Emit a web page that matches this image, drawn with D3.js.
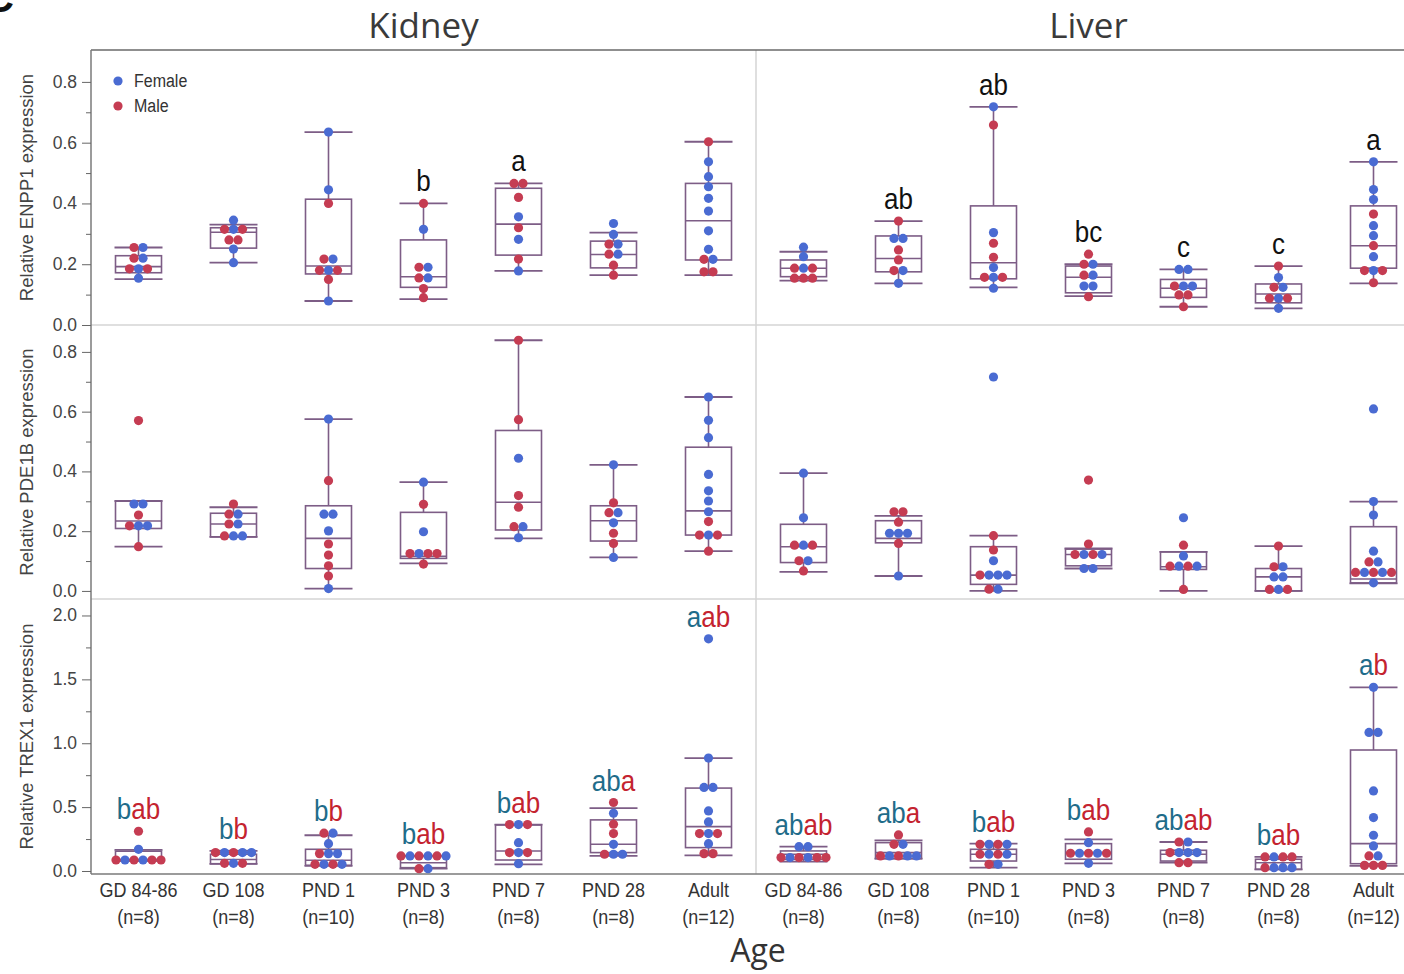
<!DOCTYPE html>
<html>
<head>
<meta charset="utf-8">
<script src="https://cdn.jsdelivr.net/npm/d3@7"></script>
<style>
  body { margin: 0; background: #fff; }
  text { font-family: "Liberation Sans", Arial, sans-serif; }
</style>
</head>
<body>
<div id="viz_div"></div>
<script>
// DATA
// ---------------------------------------------------------------------------------------------------------------------------------
const ages = ["GD 84-86", "GD 108", "PND 1", "PND 3", "PND 7", "PND 28", "Adult"];
const ageN = ["(n=8)", "(n=8)", "(n=10)", "(n=8)", "(n=8)", "(n=8)", "(n=12)"];
const tissues = ["Kidney", "Liver"];
const genes = ["ENPP1", "PDE1B", "TREX1"];
const sexes = ["Female", "Male"];

const enpp1Ticks = [0, 0.2, 0.4, 0.6, 0.8];
const pde1bTicks = [0, 0.2, 0.4, 0.6, 0.8];
const trex1Ticks = [0, 0.5, 1.0, 1.5, 2.0];

// ENPP1 - kidney
const kidneyEnpp1Female = [[0.255, 0.22, 0.185, 0.154], [0.345, 0.315, 0.25, 0.205], [0.635, 0.445, 0.217, 0.18, 0.079],
    [0.315, 0.19, 0.155], [0.356, 0.282, 0.178], [0.334, 0.298, 0.266, 0.233], [0.537, 0.488, 0.455, 0.417, 0.375, 0.31, 0.249, 0.216]];
const kidneyEnpp1Male = [[0.255, 0.22, 0.185, 0.185], [0.315, 0.315, 0.28, 0.28], [0.40, 0.217, 0.18, 0.18, 0.15],
    [0.40, 0.19, 0.155, 0.12, 0.09], [0.466, 0.466, 0.42, 0.32, 0.217], [0.266, 0.233, 0.197, 0.164], [0.603, 0.216, 0.175, 0.175]];
// [low whisker, q1, median, q3, high whisker]
const kidneyEnpp1Box = [[0.151, 0.172, 0.192, 0.228, 0.255], [0.205, 0.253, 0.305, 0.32, 0.33], [0.079, 0.168, 0.194, 0.414, 0.635],
    [0.085, 0.124, 0.159, 0.28, 0.40], [0.178, 0.23, 0.332, 0.45, 0.466], [0.164, 0.188, 0.232, 0.276, 0.304], [0.164, 0.214, 0.343, 0.466, 0.603]];
const kidneyEnpp1Letters = ["", "", "", "b", "a", "", ""];

// ENPP1 - liver
const liverEnpp1Female = [[0.256, 0.225, 0.187], [0.285, 0.285, 0.179, 0.137], [0.718, 0.304, 0.189, 0.157, 0.121],
    [0.2, 0.164, 0.128, 0.128], [0.183, 0.183, 0.128, 0.128], [0.156, 0.124, 0.088, 0.055], [0.537, 0.446, 0.413, 0.327, 0.294, 0.225, 0.179]];
const liverEnpp1Male = [[0.187, 0.187, 0.154, 0.154, 0.154], [0.342, 0.247, 0.214, 0.179], [0.658, 0.269, 0.223, 0.157, 0.157],
    [0.233, 0.2, 0.164, 0.093], [0.128, 0.099, 0.099, 0.06], [0.194, 0.124, 0.088, 0.088], [0.365, 0.261, 0.179, 0.179, 0.139]];
const liverEnpp1Box = [[0.146, 0.159, 0.187, 0.214, 0.241], [0.137, 0.175, 0.219, 0.293, 0.342], [0.124, 0.152, 0.205, 0.392, 0.718],
    [0.095, 0.106, 0.157, 0.194, 0.2], [0.06, 0.091, 0.121, 0.15, 0.183], [0.055, 0.073, 0.102, 0.135, 0.194], [0.137, 0.187, 0.261, 0.392, 0.537]];
const liverEnpp1Letters = ["", "ab", "ab", "bc", "c", "c", "a"];

// PDE1B - kidney
const kidneyPde1bFemale = [[0.291, 0.291, 0.218, 0.218], [0.257, 0.224, 0.184, 0.184], [0.575, 0.257, 0.257, 0.201, 0.008],
    [0.364, 0.198, 0.125], [0.444, 0.215, 0.178], [0.422, 0.262, 0.228, 0.112], [0.649, 0.571, 0.513, 0.39, 0.335, 0.301, 0.265, 0.187]];
const kidneyPde1bMale = [[0.57, 0.254, 0.218, 0.148], [0.291, 0.257, 0.224, 0.184], [0.369, 0.157, 0.12, 0.084, 0.05],
    [0.29, 0.125, 0.125, 0.125, 0.09], [0.839, 0.573, 0.319, 0.28, 0.215], [0.295, 0.262, 0.193, 0.159], [0.232, 0.187, 0.187, 0.133]];
const kidneyPde1bBox = [[0.148, 0.209, 0.234, 0.301, 0.301], [0.181, 0.181, 0.224, 0.26, 0.28], [0.008, 0.075, 0.176, 0.285, 0.575],
    [0.092, 0.109, 0.116, 0.263, 0.364], [0.176, 0.204, 0.297, 0.537, 0.839], [0.112, 0.167, 0.235, 0.285, 0.422], [0.133, 0.187, 0.268, 0.481, 0.649]];

// PDE1B - liver
const liverPde1bFemale = [[0.394, 0.245, 0.153, 0.101], [0.193, 0.193, 0.193, 0.05], [0.716, 0.101, 0.053, 0.053, 0.053, 0.006],
    [0.122, 0.122, 0.075, 0.075], [0.245, 0.117, 0.083, 0.083], [0.081, 0.047, 0.047, 0.005], [0.609, 0.299, 0.254, 0.133, 0.097, 0.062, 0.062, 0.027]];
const liverPde1bMale = [[0.153, 0.153, 0.101, 0.067], [0.265, 0.265, 0.23, 0.159], [0.185, 0.137, 0.053, 0.006],
    [0.371, 0.157, 0.122, 0.122], [0.153, 0.083, 0.083, 0.005], [0.15, 0.081, 0.005, 0.005], [0.097, 0.062, 0.062, 0.062]];
const liverPde1bBox = [[0.064, 0.095, 0.148, 0.223, 0.394], [0.05, 0.161, 0.176, 0.235, 0.251], [0.0, 0.022, 0.053, 0.148, 0.185],
    [0.075, 0.084, 0.122, 0.14, 0.142], [0.0, 0.072, 0.081, 0.131, 0.131], [0.0, 0.0, 0.047, 0.075, 0.15], [0.025, 0.027, 0.04, 0.215, 0.299]];

// TREX1 - kidney
const kidneyTrex1Female = [[0.17, 0.086, 0.086], [0.144, 0.144, 0.144, 0.06], [0.296, 0.214, 0.136, 0.136, 0.052, 0.052],
    [0.118, 0.118, 0.118, 0.018], [0.363, 0.222, 0.144, 0.057], [0.452, 0.209, 0.131, 0.131], [1.817, 0.884, 0.654, 0.654, 0.47, 0.384, 0.293, 0.214]];
const kidneyTrex1Male = [[0.311, 0.086, 0.086, 0.086, 0.086], [0.144, 0.144, 0.06, 0.06], [0.296, 0.136, 0.052, 0.052],
    [0.118, 0.118, 0.118, 0.018], [0.363, 0.363, 0.144, 0.144], [0.536, 0.366, 0.293, 0.131], [0.293, 0.293, 0.136, 0.136]];
const kidneyTrex1Box = [[0.08, 0.08, 0.09, 0.155, 0.165], [0.055, 0.057, 0.09, 0.131, 0.157], [0.04, 0.045, 0.084, 0.17, 0.28],
    [0.018, 0.026, 0.065, 0.118, 0.118], [0.052, 0.086, 0.157, 0.36, 0.363], [0.118, 0.144, 0.209, 0.40, 0.492], [0.123, 0.183, 0.347, 0.649, 0.884]];
const kidneyTrex1LettersFemale = ["b", "b", "b", "b", "b", "ab", "a"];
const kidneyTrex1LettersMale = ["ab", "b", "b", "ab", "ab", "a", "ab"];

// TREX1 - liver
const liverTrex1Female = [[0.19, 0.19, 0.105, 0.105], [0.209, 0.118, 0.118, 0.118], [0.209, 0.209, 0.131, 0.131, 0.052],
    [0.222, 0.139, 0.139, 0.06], [0.227, 0.144, 0.144, 0.144], [0.11, 0.026, 0.026, 0.026], [1.438, 1.085, 1.085, 0.627, 0.418, 0.28, 0.196, 0.118]];
const liverTrex1Male = [[0.105, 0.105, 0.105, 0.105], [0.282, 0.209, 0.118, 0.118], [0.209, 0.209, 0.131, 0.131, 0.052],
    [0.306, 0.139, 0.139, 0.139], [0.227, 0.144, 0.065, 0.065], [0.11, 0.11, 0.11, 0.026], [0.118, 0.044, 0.044, 0.044]];
const liverTrex1Box = [[0.073, 0.092, 0.131, 0.157, 0.19], [0.097, 0.097, 0.144, 0.222, 0.24], [0.026, 0.078, 0.131, 0.17, 0.214],
    [0.06, 0.092, 0.144, 0.214, 0.248], [0.065, 0.078, 0.131, 0.162, 0.227], [0.013, 0.013, 0.065, 0.092, 0.11], [0.04, 0.057, 0.214, 0.947, 1.438]];
const liverTrex1LettersFemale = ["ab", "ab", "b", "b", "ab", "b", "a"];
const liverTrex1LettersMale = ["ab", "a", "ab", "ab", "ab", "ab", "b"];

// SETUP
// ---------------------------------------------------------------------------------------------------------------------------------
const width = 1404, height = 974;
const plot = { left: 91, right: 1421, top: 50, bottom: 874 };
const rowEdges = [50, 325, 599, 874];

const color = d3.scaleOrdinal().domain(sexes).range(["#4a6bd2", "#c53c52"]);
const boxColor = "#7d5d86";
const letterColor = { Female: "#1f6c8a", Male: "#c4232f" };
const dotR = 4.6;
const stretch = 1.1;   // the figure's lettering is a bit taller than wide

const tissueX = d3.scaleBand().domain(tissues).range([plot.left, plot.right]);
const ageX = d3.scaleBand().domain(ages).range([0, tissueX.bandwidth()]);

const rowY = {
    ENPP1: d3.scaleLinear().domain([0, 0.905]).range([rowEdges[1], rowEdges[0]]),
    PDE1B: d3.scaleLinear().domain([-0.027, 0.89]).range([rowEdges[2], rowEdges[1]]),
    TREX1: d3.scaleLinear().domain([-0.0235, 2.129]).range([rowEdges[3], rowEdges[2]])
};
const rowTicks = { ENPP1: enpp1Ticks, PDE1B: pde1bTicks, TREX1: trex1Ticks };

const panels = [
    { gene: "ENPP1", tissue: "Kidney", female: kidneyEnpp1Female, male: kidneyEnpp1Male, box: kidneyEnpp1Box, letters: kidneyEnpp1Letters },
    { gene: "ENPP1", tissue: "Liver", female: liverEnpp1Female, male: liverEnpp1Male, box: liverEnpp1Box, letters: liverEnpp1Letters },
    { gene: "PDE1B", tissue: "Kidney", female: kidneyPde1bFemale, male: kidneyPde1bMale, box: kidneyPde1bBox },
    { gene: "PDE1B", tissue: "Liver", female: liverPde1bFemale, male: liverPde1bMale, box: liverPde1bBox },
    { gene: "TREX1", tissue: "Kidney", female: kidneyTrex1Female, male: kidneyTrex1Male, box: kidneyTrex1Box,
        lettersF: kidneyTrex1LettersFemale, lettersM: kidneyTrex1LettersMale },
    { gene: "TREX1", tissue: "Liver", female: liverTrex1Female, male: liverTrex1Male, box: liverTrex1Box,
        lettersF: liverTrex1LettersFemale, lettersM: liverTrex1LettersMale }
];

const svg = d3.select("#viz_div")
    .append("svg")
    .attr("width", width)
    .attr("height", height)
    .style("display", "block");

svg.append("rect").attr("width", width).attr("height", height).attr("fill", "#fff");

// text drawn slightly stretched upward, baseline at (x, y)
function tallText(parent, x, y, txt, size, fill, anchor) {
    return parent.append("text")
        .attr("transform", `translate(${x},${y}) scale(1,${stretch})`)
        .attr("text-anchor", anchor || "middle")
        .attr("fill", fill)
        .style("font-size", size + "px")
        .text(txt);
}

// place dots of one group in centred rows (simple swarm)
function swarm(female, male, y, cx) {
    const pts = female.map(v => ({ v: v, sex: "Female" }))
        .concat(male.map(v => ({ v: v, sex: "Male" })));
    pts.forEach(p => p.py = y(p.v));
    pts.sort((a, b) => a.py - b.py);
    const rows = [];
    pts.forEach(p => {
        const last = rows[rows.length - 1];
        if (last && p.py - last[0].py < 5) last.push(p);
        else rows.push([p]);
    });
    rows.forEach(row => {
        const f = row.filter(p => p.sex === "Female"), m = row.filter(p => p.sex === "Male");
        const ordered = [];
        while (f.length || m.length) {
            if (m.length) ordered.push(m.shift());
            if (f.length) ordered.push(f.shift());
        }
        ordered.forEach((p, i) => p.px = cx + (i - (ordered.length - 1) / 2) * 9);
    });
    return pts;
}

// FRAME AND GRID LINES
// ---------------------------------------------------------------------------------------------------------------------------------
const frame = svg.append("g");
[rowEdges[1], rowEdges[2]].forEach(yy => {
    frame.append("line").attr("x1", plot.left).attr("x2", plot.right).attr("y1", yy).attr("y2", yy)
        .attr("stroke", "#d4d4d4").attr("stroke-width", 1.5);
});
frame.append("line").attr("x1", tissueX("Liver")).attr("x2", tissueX("Liver"))
    .attr("y1", plot.top).attr("y2", plot.bottom).attr("stroke", "#d4d4d4").attr("stroke-width", 1.5);
frame.append("line").attr("x1", plot.left).attr("x2", plot.right).attr("y1", plot.top).attr("y2", plot.top)
    .attr("stroke", "#6a6a6a").attr("stroke-width", 1.5);
frame.append("line").attr("x1", plot.left).attr("x2", plot.right).attr("y1", plot.bottom).attr("y2", plot.bottom)
    .attr("stroke", "#7a7a7a").attr("stroke-width", 1.5);
frame.append("line").attr("x1", plot.left).attr("x2", plot.left).attr("y1", plot.top).attr("y2", plot.bottom)
    .attr("stroke", "#7a7a7a").attr("stroke-width", 1.5);

// Y AXES
// ---------------------------------------------------------------------------------------------------------------------------------
genes.forEach((g, gi) => {
    const y = rowY[g];
    const ticks = rowTicks[g];
    const step = ticks[1] - ticks[0];
    const minor = ticks.slice(0, -1).map(t => +(t + step / 2).toFixed(3));

    const ax = svg.append("g")
        .attr("transform", `translate(${plot.left},0)`)
        .call(d3.axisLeft(y).tickValues(ticks).tickSize(9).tickFormat(""));
    ax.select(".domain").remove();
    ax.selectAll("line").attr("stroke", "#666");

    const mx = svg.append("g")
        .attr("transform", `translate(${plot.left},0)`)
        .call(d3.axisLeft(y).tickValues(minor).tickSize(5).tickFormat(""));
    mx.select(".domain").remove();
    mx.selectAll("line").attr("stroke", "#666");

    ticks.forEach(t => {
        tallText(svg, plot.left - 14, y(t) + 6, d3.format(".1f")(t), 17.5, "#444", "end");
    });

    svg.append("text")
        .attr("transform", `translate(33,${(rowEdges[gi] + rowEdges[gi + 1]) / 2}) rotate(-90)`)
        .attr("text-anchor", "middle")
        .attr("fill", "#444")
        .style("font-size", "18.5px")
        .text(`Relative ${g} expression`);
});

// BOXES, DOTS AND LETTERS
// ---------------------------------------------------------------------------------------------------------------------------------
svg.append("clipPath").attr("id", "plotclip")
    .append("rect").attr("x", plot.left).attr("y", plot.top)
    .attr("width", plot.right - plot.left).attr("height", plot.bottom - plot.top);

panels.forEach(p => {
    const y = rowY[p.gene];
    const g = svg.append("g");
    ages.forEach((age, i) => {
        const cx = tissueX(p.tissue) + ageX(age) + ageX.bandwidth() / 2;
        const [lo, q1, med, q3, hi] = p.box[i];
        const bw = 46;

        g.append("line").attr("x1", cx).attr("x2", cx).attr("y1", y(q3)).attr("y2", y(hi))
            .attr("stroke", boxColor).attr("stroke-width", 1.6);
        g.append("line").attr("x1", cx).attr("x2", cx).attr("y1", y(q1)).attr("y2", y(lo))
            .attr("stroke", boxColor).attr("stroke-width", 1.6);
        [lo, hi].forEach(v => {
            g.append("line").attr("x1", cx - 24).attr("x2", cx + 24).attr("y1", y(v)).attr("y2", y(v))
                .attr("stroke", boxColor).attr("stroke-width", 1.8);
        });
        g.append("rect").attr("x", cx - bw / 2).attr("y", y(q3))
            .attr("width", bw).attr("height", Math.max(0, y(q1) - y(q3)))
            .attr("fill", "none").attr("stroke", boxColor).attr("stroke-width", 1.6);
        g.append("line").attr("x1", cx - bw / 2).attr("x2", cx + bw / 2).attr("y1", y(med)).attr("y2", y(med))
            .attr("stroke", boxColor).attr("stroke-width", 1.6);

        const pts = swarm(p.female[i], p.male[i], y, cx);
        g.append("g").attr("clip-path", "url(#plotclip)")
            .selectAll("circle")
            .data(pts)
            .enter()
            .append("circle")
            .attr("cx", d => d.px)
            .attr("cy", d => d.py)
            .attr("r", dotR)
            .attr("fill", d => color(d.sex));

        const top = d3.max(pts, d => d.v);
        const ly = y(Math.max(top, hi)) - 12;
        if (p.letters && p.letters[i]) {
            tallText(g, cx, ly, p.letters[i], 26, "#111");
        }
        if (p.lettersF) {
            const t = tallText(g, cx, ly, "", 26, "#111");
            t.append("tspan").attr("fill", letterColor.Female).text(p.lettersF[i]);
            t.append("tspan").attr("fill", letterColor.Male).text(p.lettersM[i]);
        }
    });
});

// X AXIS LABELS AND TITLES
// ---------------------------------------------------------------------------------------------------------------------------------
tissues.forEach(t => {
    ages.forEach((age, i) => {
        const cx = tissueX(t) + ageX(age) + ageX.bandwidth() / 2;
        tallText(svg, cx, 897, age, 18, "#333");
        tallText(svg, cx, 924, ageN[i], 18, "#333");
    });
    svg.append("text")
        .attr("x", tissueX(t) + tissueX.bandwidth() / 2)
        .attr("y", 38)
        .attr("text-anchor", "middle")
        .attr("fill", "#3a3a3a")
        .style("font-family", "'Open Sans', sans-serif")
        .style("font-size", "35px")
        .text(t);
});

svg.append("text")
    .attr("x", 758)
    .attr("y", 962)
    .attr("text-anchor", "middle")
    .attr("fill", "#333")
    .style("font-family", "'Open Sans', sans-serif")
    .style("font-size", "32px")
    .text("Age");

// panel letter, cut off at the corner of the figure
svg.append("text")
    .attr("x", 14)
    .attr("y", 12)
    .attr("text-anchor", "end")
    .attr("fill", "#111")
    .style("font-size", "40px")
    .style("font-weight", "bold")
    .text("C");

// LEGEND
// ---------------------------------------------------------------------------------------------------------------------------------
const legend = svg.append("g");
legend.selectAll("circle")
    .data(sexes)
    .enter()
    .append("circle")
    .attr("cx", 118)
    .attr("cy", (d, i) => 81 + i * 25)
    .attr("r", dotR)
    .attr("fill", d => color(d));
sexes.forEach((s, i) => {
    tallText(legend, 134, 87 + i * 25, s, 16, "#333", "start");
});
</script>
</body>
</html>
